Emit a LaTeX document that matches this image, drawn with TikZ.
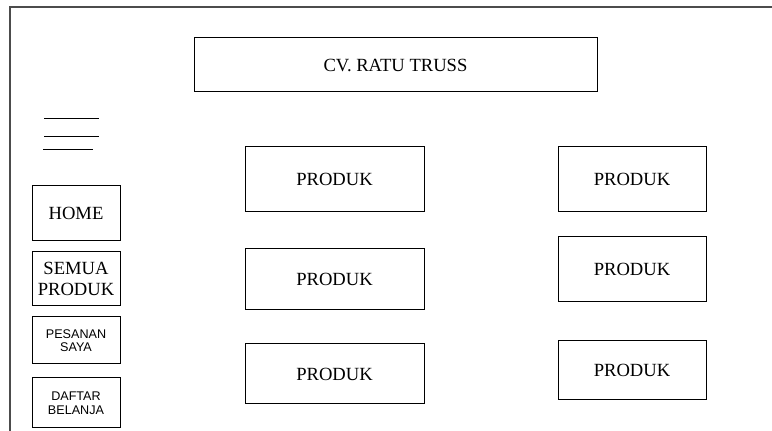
\documentclass[tikz,border=0pt]{standalone}
\usepackage{fontspec}
\setmainfont{Liberation Serif}
\newfontfamily\menusans{Liberation Sans}
\usepackage{tikz}
\usetikzlibrary{calc}
\usetikzlibrary{positioning}
\tikzstyle{pagebox} = [draw, rectangle, inner sep=0pt, line width=0.5pt, align=center, font=\fontsize{9.3}{10.5}\selectfont]
\tikzstyle{menubox} = [pagebox, minimum width=44pt]
\tikzstyle{smallmenu} = [menubox, font=\menusans\fontsize{6.3}{6.8}\selectfont]
\tikzstyle{produkbox} = [pagebox, minimum width=89.5pt]
\tikzstyle{produkboxR} = [pagebox, minimum width=74pt]
\tikzstyle{frameline} = [draw=black!70, line width=0.6pt]

\begin{document}
\begin{tikzpicture}[x=0.5pt, y=-0.5pt]
\useasboundingbox (0,0) rectangle (772,431);
% halaman
\draw[frameline] (10,431) -- (10,7) -- (772,7);
\node[pagebox, minimum width=201.5pt, minimum height=27pt] (header) at (395.5,65) {CV. RATU TRUSS};

% menu
\draw[line width=0.5pt] (44,119) -- (99,119);
\draw[line width=0.5pt] (44,137) -- (99,137);
\draw[line width=0.5pt] (43,150) -- (93,150);
\node[menubox, minimum height=27.5pt] (home) at (76,213.5) {HOME};
\node[menubox, minimum height=27pt] (semua) at (76,279) {SEMUA\\PRODUK};
\node[smallmenu, minimum height=23.5pt] (pesanan) at (76,340.5) {PESANAN\\SAYA};
\node[smallmenu, minimum height=25pt] (daftar) at (76,403) {DAFTAR\\BELANJA};

% produk
\node[produkbox, minimum height=32.5pt] (produk_a) at (334.5,179.5) {PRODUK};
\node[produkbox, minimum height=30.5pt] (produk_b) at (334.5,279.5) {PRODUK};
\node[produkbox, minimum height=30pt] (produk_c) at (334.5,374) {PRODUK};
\node[produkboxR, minimum height=32.5pt] (produk_d) at (632,179.5) {PRODUK};
\node[produkboxR, minimum height=32.5pt] (produk_e) at (632,269.5) {PRODUK};
\node[produkboxR, minimum height=29.5pt] (produk_f) at (632,370.5) {PRODUK};
\end{tikzpicture}
\end{document}
